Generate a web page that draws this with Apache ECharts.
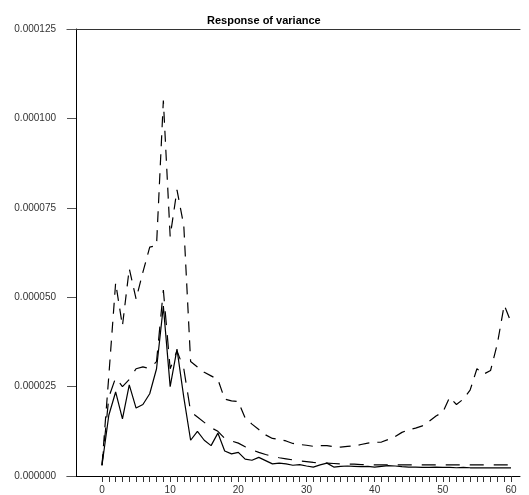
<!DOCTYPE html>
<html>
<head>
<meta charset="utf-8">
<script src="https://cdn.jsdelivr.net/npm/echarts@6/dist/echarts.min.js"></script>
<style>
  html, body { margin: 0; padding: 0; background: #fff; }
  #chart { width: 529px; height: 495px; }
</style>
</head>
<body>
<div id="chart"></div>
<script>
// values are in units of 1e-6
const SCALE = 1e-6
const steps = Array.from({ length: 61 }, (_, i) => String(i))

const median = [
  3, 17, 23.5, 16, 25.5, 19, 20, 23, 30, 47.5,
  25, 35.5, 22, 10, 12.5, 10, 8.5, 12, 7, 6.2,
  6.6, 4.7, 4.4, 5.2, 4.3, 3.4, 3.6, 3.4, 3.0, 3.2,
  2.8, 2.5, 3.1, 3.6, 2.5, 2.7, 2.8, 2.7, 2.6, 2.7,
  2.5, 2.7, 2.9, 2.8, 2.6, 2.5, 2.5, 2.4, 2.4, 2.5,
  2.4, 2.4, 2.3, 2.4, 2.3, 2.3, 2.3, 2.3, 2.3, 2.3,
  2.3
]

const lowerBand = [
  3, 22, 27.5, 25, 27, 30, 30.5, 30, 32, 52,
  30, 35, 30, 18, 16.5, 15, 13.5, 12.5, 10.5, 9.8,
  9.2, 8.2, 7.3, 6.6, 6.0, 5.5, 5.1, 4.8, 4.5, 4.2,
  4.0, 3.8, 3.7, 3.6, 3.5, 3.4, 3.3, 3.3, 3.2, 3.2,
  3.1, 3.1, 3.1, 3.1, 3.1, 3.1, 3.1, 3.1, 3.1, 3.1,
  3.1, 3.1, 3.1, 3.1, 3.1, 3.1, 3.1, 3.1, 3.1, 3.1,
  3.1
]

const upperBand = [
  3, 28, 54, 42, 58, 49.5, 57, 64, 64.5, 105,
  67, 80, 70, 32, 30.5, 29, 28, 27, 21.5, 21,
  20.8, 16.2, 14.5, 13, 11.5, 10.5, 10.2, 9.8, 9.1, 8.8,
  8.6, 8.3, 8.5, 8.5, 8.2, 8.1, 8.3, 8.4, 8.8, 9.2,
  9.4, 9.5, 10.2, 11, 12.2, 12.9, 13.4, 14, 15.3, 16.8,
  17.8, 22, 20, 21.5, 24, 30, 28.5, 29.5, 37, 47.8,
  43
]

const chart = echarts.init(document.getElementById('chart'))

const labelFont = {
  color: '#333',
  fontFamily: 'Liberation Sans, Arial, sans-serif'
}

const option = {
  animation: false,
  backgroundColor: '#fff',
  title: {
    text: 'Response of variance',
    left: 202,
    top: 10,
    textStyle: {
      fontSize: 11,
      fontWeight: 'bold',
      color: '#000',
      fontFamily: 'Liberation Sans, Arial, sans-serif'
    }
  },
  grid: [
    { left: 102, right: 18, top: 29, bottom: 19 },
    // wider frame, only used for the long axis lines
    { left: 67, right: 9, top: 29, bottom: 19 }
  ],
  xAxis: [
    {
      type: 'category',
      gridIndex: 0,
      data: steps,
      boundaryGap: false,
      axisLine: { show: false },
      axisTick: {
        show: true,
        interval: 0,
        length: 6,
        lineStyle: { color: '#333' }
      },
      axisLabel: {
        ...labelFont,
        fontSize: 10,
        margin: 9,
        interval: (i) => i % 10 === 0
      },
      splitLine: { show: false }
    },
    {
      type: 'value',
      gridIndex: 1,
      min: 0,
      max: 1,
      axisLine: { show: true, onZero: false, lineStyle: { color: '#000', width: 1 } },
      axisTick: { show: false },
      axisLabel: { show: false },
      splitLine: { show: false }
    },
    {
      type: 'value',
      gridIndex: 1,
      position: 'top',
      min: 0,
      max: 1,
      axisLine: { show: true, onZero: false, lineStyle: { color: '#333', width: 1 } },
      axisTick: { show: false },
      axisLabel: { show: false },
      splitLine: { show: false }
    }
  ],
  yAxis: [
    {
      type: 'value',
      gridIndex: 0,
      min: 0,
      max: 125,
      interval: 25,
      offset: 26,
      axisLine: { show: true, lineStyle: { color: '#000', width: 1 } },
      axisTick: { show: true, length: 9, lineStyle: { color: '#555' } },
      axisLabel: {
        ...labelFont,
        fontSize: 10,
        margin: 20,
        formatter: (v) => (v * SCALE).toFixed(6)
      },
      splitLine: { show: false }
    },
    {
      type: 'value',
      gridIndex: 1,
      show: false,
      min: 0,
      max: 1
    }
  ],
  series: [
    {
      name: 'upper',
      type: 'line',
      xAxisIndex: 0,
      yAxisIndex: 0,
      data: upperBand,
      showSymbol: false,
      lineStyle: { color: '#000', width: 1.2, type: [11, 8] }
    },
    {
      name: 'lower',
      type: 'line',
      xAxisIndex: 0,
      yAxisIndex: 0,
      data: lowerBand,
      showSymbol: false,
      lineStyle: { color: '#000', width: 1.2, type: [14, 10] }
    },
    {
      name: 'median',
      type: 'line',
      xAxisIndex: 0,
      yAxisIndex: 0,
      data: median,
      showSymbol: false,
      lineStyle: { color: '#000', width: 1.2 }
    }
  ]
}

chart.setOption(option)
</script>
</body>
</html>
